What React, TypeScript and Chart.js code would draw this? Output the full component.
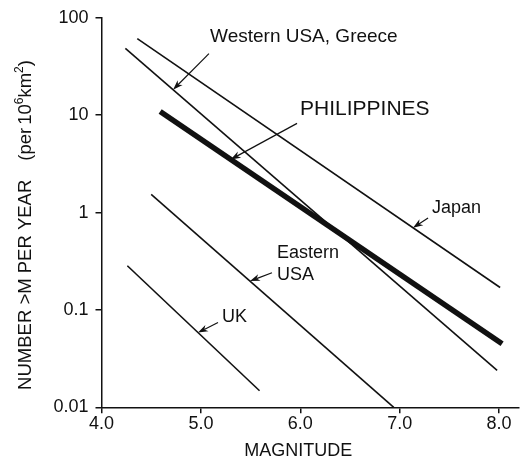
import React, { useEffect, useRef } from "react";
import { Chart, registerables } from "chart.js";

Chart.register(...registerables);

// ---- data ----
const xTickValues = [4, 5, 6, 7, 8];
const yTickValues = [0.01, 0.1, 1, 10, 100];

const japanX = [4.36, 8.01];
const japanY = [61, 0.17];
const westernX = [4.24, 7.98];
const westernY = [48.5, 0.024];
const philippinesX = [4.59, 8.03];
const philippinesY = [10.9, 0.045];
const easternX = [4.5, 6.94];
const easternY = [1.54, 0.01];
const ukX = [4.26, 5.59];
const ukY = [0.284, 0.0148];

const seriesNames = ["Japan", "Western USA, Greece", "PHILIPPINES", "Eastern USA", "UK"];
const seriesX = [japanX, westernX, philippinesX, easternX, ukX];
const seriesY = [japanY, westernY, philippinesY, easternY, ukY];

const xTitle = "MAGNITUDE";
const yTitleMain = "NUMBER >M PER YEAR";

const FONT = '"Liberation Sans", Arial, Helvetica, sans-serif';

// annotation labels in data coordinates; arrow head sits on the series line at headX
const annotations = [
  { series: 1, lines: ["Western USA, Greece"], labelX: 5.092, labelY: 64, tailX: 5.081, tailY: 42.9, headX: 4.72, size: 19 },
  { series: 2, lines: ["PHILIPPINES"], labelX: 5.997, labelY: 11.5, tailX: 5.967, tailY: 8.24, headX: 5.3, size: 21 },
  { series: 0, lines: ["Japan"], labelX: 7.325, labelY: 1.11, tailX: 7.285, tailY: 0.88, headX: 7.134, size: 18 },
  { series: 3, lines: ["Eastern", "USA"], labelX: 5.766, labelY: 0.386, tailX: 5.715, tailY: 0.241, headX: 5.494, size: 18 },
  { series: 4, lines: ["UK"], labelX: 5.212, labelY: 0.0836, tailX: 5.172, tailY: 0.0743, headX: 4.971, size: 18 },
];

function valueOnSeries(i: number, x: number): number {
  const xs = seriesX[i];
  const ys = seriesY[i];
  const t = (x - xs[0]) / (xs[1] - xs[0]);
  const l = Math.log10(ys[0]) + (Math.log10(ys[1]) - Math.log10(ys[0])) * t;
  return Math.pow(10, l);
}

const isMajor = (v: number) => {
  const l = Math.log10(v);
  return Math.abs(l - Math.round(l)) < 1e-6;
};

const decorPlugin = {
  id: "decor",
  afterDraw(chart: any) {
    const ctx = chart.ctx as CanvasRenderingContext2D;
    const xs = chart.scales.x;
    const ys = chart.scales.y;
    const area = chart.chartArea;
    ctx.save();
    ctx.fillStyle = "#111";
    ctx.strokeStyle = "#111";

    // annotations
    for (const a of annotations) {
      ctx.font = `${a.size}px ${FONT}`;
      ctx.textAlign = "left";
      ctx.textBaseline = "middle";
      const lx = xs.getPixelForValue(a.labelX);
      const ly = ys.getPixelForValue(a.labelY);
      a.lines.forEach((t, k) => ctx.fillText(t, lx, ly + k * 22));

      const tx = xs.getPixelForValue(a.tailX);
      const ty = ys.getPixelForValue(a.tailY);
      const hx = xs.getPixelForValue(a.headX);
      const hy = ys.getPixelForValue(valueOnSeries(a.series, a.headX));
      const ang = Math.atan2(hy - ty, hx - tx);
      const L = 10;
      const W = 3.5;
      ctx.lineWidth = 1.2;
      ctx.beginPath();
      ctx.moveTo(tx, ty);
      ctx.lineTo(hx - Math.cos(ang) * L * 0.7, hy - Math.sin(ang) * L * 0.7);
      ctx.stroke();
      ctx.beginPath();
      ctx.moveTo(hx, hy);
      ctx.lineTo(hx - Math.cos(ang) * L - Math.sin(ang) * W, hy - Math.sin(ang) * L + Math.cos(ang) * W);
      ctx.lineTo(hx - Math.cos(ang) * L * 0.7, hy - Math.sin(ang) * L * 0.7);
      ctx.lineTo(hx - Math.cos(ang) * L + Math.sin(ang) * W, hy - Math.sin(ang) * L - Math.cos(ang) * W);
      ctx.closePath();
      ctx.fill();
    }

    // x title
    ctx.font = `18px ${FONT}`;
    ctx.textAlign = "center";
    ctx.textBaseline = "middle";
    ctx.fillText(xTitle, (area.left + area.right) / 2 - 12, 451);

    // y title (rotated, with superscripts)
    ctx.translate(26, 225);
    ctx.rotate(-Math.PI / 2);
    const big = `18.5px ${FONT}`;
    const small = `12px ${FONT}`;
    const pieces: { t: string; sup: boolean; gap?: number }[] = [
      { t: yTitleMain, sup: false },
      { t: "(per", sup: false, gap: 19 },
      { t: "10", sup: false, gap: 3 },
      { t: "6", sup: true },
      { t: "km", sup: false },
      { t: "2", sup: true },
      { t: ")", sup: false },
    ];
    let total = 0;
    for (const p of pieces) {
      ctx.font = p.sup ? small : big;
      total += (p.gap || 0) + ctx.measureText(p.t).width;
    }
    let x = -total / 2;
    ctx.textAlign = "left";
    for (const p of pieces) {
      ctx.font = p.sup ? small : big;
      x += p.gap || 0;
      ctx.fillText(p.t, x, p.sup ? -6 : 0);
      x += ctx.measureText(p.t).width;
    }
    ctx.restore();
  },
};

export default function App() {
  const ref = useRef<HTMLCanvasElement | null>(null);

  useEffect(() => {
    if (!ref.current) return;
    const datasets = seriesNames.map((name, i) => ({
      label: name,
      data: seriesX[i].map((x, k) => ({ x, y: seriesY[i][k] })),
      borderColor: "#111",
      borderWidth: i === 2 ? 5.5 : 1.6,
      pointRadius: 0,
      fill: false,
      tension: 0,
      borderCapStyle: "butt" as const,
    }));

    const chart = new Chart(ref.current, {
      type: "line",
      data: { datasets },
      plugins: [decorPlugin],
      options: {
        animation: false,
        responsive: false,
        layout: { padding: { left: 0, right: 4, top: 16, bottom: 0 } },
        plugins: { legend: { display: false }, tooltip: { enabled: false } },
        elements: { line: { borderJoinStyle: "miter" } },
        scales: {
          x: {
            type: "linear",
            min: 4,
            max: 8.2,
            afterFit: (s: any) => {
              s.height = 54.7;
            },
            afterBuildTicks: (s: any) => {
              s.ticks = xTickValues.map((v) => ({ value: v }));
            },
            ticks: {
              color: "#111",
              font: { family: FONT, size: 18 },
              padding: 0,
              maxRotation: 0,
              autoSkip: false,
              callback: (v: any) => Number(v).toFixed(1),
            },
            grid: {
              drawOnChartArea: false,
              drawTicks: true,
              tickLength: 6,
              color: "#111",
              lineWidth: 1.5,
            },
            border: { display: true, color: "#111", width: 1.5 },
          },
          y: {
            type: "logarithmic",
            min: 0.01,
            max: 100,
            afterFit: (s: any) => {
              s.width = 101.5;
            },
            afterBuildTicks: (s: any) => {
              s.ticks = yTickValues.map((v) => ({ value: v }));
            },
            ticks: {
              color: "#111",
              font: { family: FONT, size: 18 },
              padding: 7,
              autoSkip: false,
              callback: (v: any) => (isMajor(Number(v)) ? String(Number(v)) : ""),
            },
            grid: {
              drawOnChartArea: false,
              drawTicks: true,
              tickLength: 6,
              color: "#111",
              lineWidth: 1.5,
            },
            border: { display: true, color: "#111", width: 1.5 },
          },
        },
      },
    });
    return () => chart.destroy();
  }, []);

  return (
    <div style={{ position: "fixed", left: 0, top: 0, width: 523, height: 462, background: "#fff" }}>
      <canvas ref={ref} width={523} height={462} style={{ width: 523, height: 462, display: "block" }} />
    </div>
  );
}
